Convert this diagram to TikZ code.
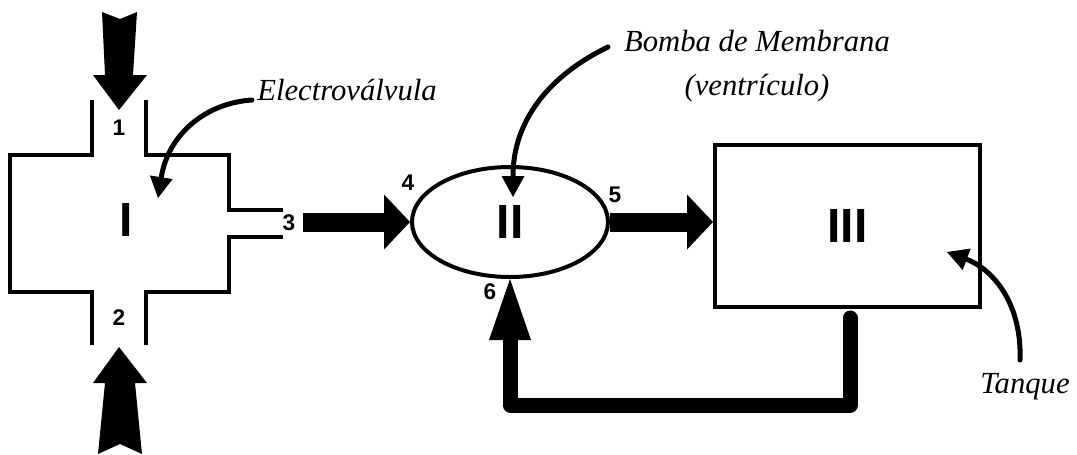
\documentclass[tikz,border=0pt]{standalone}
\usepackage{fontspec}
\setmainfont{Liberation Serif}
\newfontfamily\labfont{Liberation Sans}
\usetikzlibrary{arrows.meta,shapes.geometric,calc}
\begin{document}
\begin{tikzpicture}[x=0.75pt,y=-0.75pt,
  wall/.style={line width=3pt, line join=miter},
  num/.style={font=\labfont\fontsize{17}{20}\selectfont\bfseries, inner sep=0pt},
  roman/.style={font=\labfont\fontsize{36}{40}\selectfont\bfseries, inner sep=0pt},
  note/.style={font=\fontsize{23}{33}\selectfont\itshape, inner sep=0pt},
  pointer/.style={line width=3.75pt, line cap=round, -{Triangle[length=15.75pt,width=17.25pt,line width=0pt]}},
  flow/.style={line width=14.25pt, -{Triangle[length=19.5pt,width=41.25pt,line width=0pt]}},
  loopflow/.style={line width=11.25pt, line join=round, line cap=round, -{Triangle[length=45.75pt,width=31.5pt,line width=0pt]}},
  bigarrow/.style={fill=black}
]
\useasboundingbox (0,0) rectangle (1077,454);

% valve body (I)
\draw[wall] (92,100) -- (92,155) -- (10,155) -- (10,292) -- (92,292) -- (92,345);
\draw[wall] (146,345) -- (146,292) -- (229,292) -- (229,237) -- (283,237);
\draw[wall] (283,210) -- (229,210) -- (229,155) -- (146,155) -- (146,100);
\node[roman] (valve) at (126,220) {I};

% pump and tank
\node[draw, wall, ellipse, minimum width=147pt, minimum height=82.5pt, roman] (pump) at (510,222) {II};
\node[draw, wall, rectangle, minimum width=198.75pt, minimum height=121.5pt, roman] (tank) at (847.5,226) {III};

% port numbers
\node[num] (n1) at (119,128) {1};
\node[num] (n2) at (119,318) {2};
\node[num] (n3) at (289,223) {3};
\node[num] (n4) at (408,183) {4};
\node[num] (n5) at (615,195) {5};
\node[num] (n6) at (490,292) {6};

% big inlet arrows at ports 1 and 2
\fill[bigarrow] (102,12) -- (120,19) -- (137,12) -- (133,75) -- (147,75) -- (119,110) -- (93,75) -- (105,75) -- cycle;
\fill[bigarrow] (98,454) -- (120,444) -- (142,454) -- (135,383) -- (147,383) -- (119,347) -- (93,383) -- (105,383) -- cycle;

% flow connectors
\coordinate (p3) at (303,222);
\draw[flow] (p3) -- (pump.west);
\draw[flow] (pump.east) -- (tank.west |- pump.east);
\coordinate (drain) at (850,318);
\draw[loopflow] (drain) -- ++(0,87) -| (pump.south);

% annotations
\node[note, anchor=base west] (ev) at (257,100) {Electroválvula};
\node[note, align=center] (bm) at (757,66) {Bomba de Membrana\\(ventrículo)};
\node[note] (tq) at (1025,387) {Tanque};

\coordinate (evhead) at (158,198);
\coordinate (bmtail) at (608,47);
\coordinate (bmhead) at (513,197);
\coordinate (tqtail) at (1020,360);
\coordinate (tqhead) at (947,252);
\draw[pointer] ([xshift=-3.75pt]ev.base west) .. controls (205,103) and (168,135) .. (evhead);
\draw[pointer] (bmtail) .. controls (550,75) and (513,120) .. (bmhead);
\draw[pointer] (tqtail) .. controls (1022,300) and (990,268) .. (tqhead);
\end{tikzpicture}
\end{document}
